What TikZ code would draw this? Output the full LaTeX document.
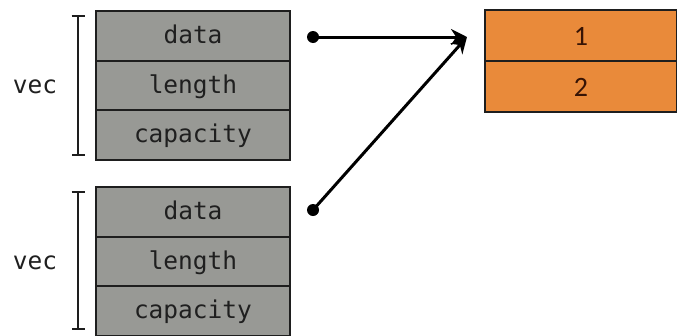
\documentclass[tikz,border=0pt]{standalone}
\usepackage{fontspec}
\newfontfamily\monof{DejaVu Sans Mono}
\newfontfamily\numf{Carlito}
\usetikzlibrary{arrows.meta}
\definecolor{cellgray}{RGB}{152,153,149}
\definecolor{cellorange}{RGB}{233,138,58}
\definecolor{edge}{RGB}{30,30,30}
\definecolor{numtext}{RGB}{55,20,5}
\tikzset{
  graycell/.style={draw=edge, line width=2pt, fill=cellgray, minimum width=194pt, minimum height=49.5pt, inner sep=0pt, font=\monof\fontsize{24.5}{28}\selectfont, text=black!88, text height=18.5pt, text depth=2.5pt},
  orangecell/.style={draw=edge, line width=2pt, fill=cellorange, minimum width=192pt, minimum height=51pt, inner sep=0pt, font=\numf\fontsize{28}{30}\selectfont, text=numtext, text height=19pt, text depth=0pt},
  veclabel/.style={font=\monof\fontsize{24.5}{28}\selectfont, text=black!88, inner sep=0pt},
  bracket/.style={line width=2pt, draw=edge, {Bar[width=13pt,line width=2pt]}-{Bar[width=13pt,line width=2pt]}},
  ptr/.style={line width=3pt, -{Stealth[length=16pt,width=16pt]}, draw=black},
  dotmark/.style={fill=black}
}
\begin{document}
\begin{tikzpicture}[x=1pt,y=-1pt]
\useasboundingbox (0,0) rectangle (677,335);
% top vec
\node[graycell] (d1) at (193,35.75) {data};
\node[graycell] (l1) at (193,85.25) {length};
\node[graycell] (c1) at (193,134.75) {capacity};
\node[veclabel] (v1) at (35,87) {vec};
\coordinate (b1t) at (78,15);
\coordinate (b1b) at (78,156);
\draw[bracket] (b1t) -- (b1b);
% bottom vec
\node[graycell] (d2) at (193,211.75) {data};
\node[graycell] (l2) at (193,261.25) {length};
\node[graycell] (c2) at (193,310.75) {capacity};
\node[veclabel] (v2) at (35,263) {vec};
\coordinate (b2t) at (78,191);
\coordinate (b2b) at (78,330);
\draw[bracket] (b2t) -- (b2b);
% heap
\node[orangecell] (o1) at (581,35.5) {1};
\node[orangecell] (o2) at (581,86.5) {2};
% pointers
\coordinate (p1) at (313,37);
\coordinate (p2) at (313,210);
\coordinate (tgt) at (467,37);
\draw[ptr] (p1) -- (tgt);
\draw[ptr] (p2) -- (tgt);
\fill[dotmark] (p1) circle (6pt);
\fill[dotmark] (p2) circle (6pt);
\end{tikzpicture}
\end{document}
